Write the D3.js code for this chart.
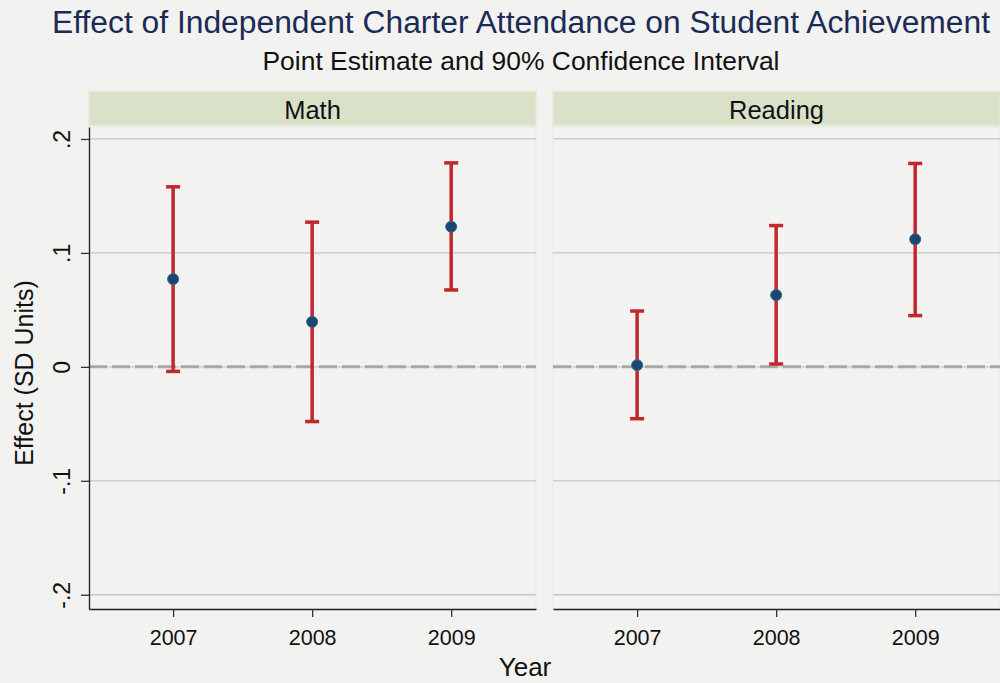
<!DOCTYPE html>
<html>
<head>
<meta charset="utf-8">
<script src="https://cdn.jsdelivr.net/npm/d3@7"></script>
<style>
  body { margin: 0; background: #f2f2f0; }
  svg { display: block; font-family: "Liberation Sans", Arial, sans-serif; }
</style>
</head>
<body>
<div id="visHolder"></div>
<script>
// data
const panels = ["Math", "Reading"];
const years = [2007, 2008, 2009];
const mathEst = [0.077, 0.0395, 0.123];
const mathLo = [-0.004, -0.048, 0.0675];
const mathHi = [0.158, 0.127, 0.179];
const readEst = [0.0015, 0.063, 0.112];
const readLo = [-0.0455, 0.0025, 0.045];
const readHi = [0.049, 0.124, 0.1785];
const yTicks = [-0.2, -0.1, 0, 0.1, 0.2];
const yTickLabels = ["-.2", "-.1", "0", ".1", ".2"];

let width = 1000,
    height = 683,
    panelLeft = [89, 553],
    panelWidth = 447,
    plotTop = 127,
    plotBottom = 609;

let svg = d3.select("#visHolder")
    .append("svg")
    .attr("width", width)
    .attr("height", height);

svg.append("rect")
    .attr("width", width)
    .attr("height", height)
    .attr("fill", "#f2f2f0");

let yScale = d3.scaleLinear()
    .domain([-0.2125, 0.2105])
    .range([plotBottom, plotTop]);

let xScale = d3.scaleLinear()
    .domain([2006.395, 2009.61])
    .range([0, panelWidth]);

const series = [
    {est: mathEst, lo: mathLo, hi: mathHi},
    {est: readEst, lo: readLo, hi: readHi}
];

// titles
svg.append("text")
    .attr("x", 521).attr("y", 33)
    .attr("text-anchor", "middle")
    .attr("font-size", 31)
    .attr("fill", "#1c2b55")
    .attr("textLength", 938)
    .attr("lengthAdjust", "spacingAndGlyphs")
    .text("Effect of Independent Charter Attendance on Student Achievement");

svg.append("text")
    .attr("x", 521).attr("y", 70)
    .attr("text-anchor", "middle")
    .attr("font-size", 25)
    .attr("fill", "#111")
    .attr("textLength", 517)
    .attr("lengthAdjust", "spacingAndGlyphs")
    .text("Point Estimate and 90% Confidence Interval");

panels.forEach((name, p) => {
    let g = svg.append("g")
        .attr("transform", "translate(" + panelLeft[p] + ",0)");
    let s = series[p];

    // strip
    g.append("rect")
        .attr("x", 0).attr("y", 91.5)
        .attr("width", panelWidth).attr("height", 34)
        .attr("fill", "#d9e2c8")
        .attr("stroke", "#e2e9d6")
        .attr("stroke-width", 1.5);
    g.append("text")
        .attr("x", panelWidth / 2).attr("y", 119)
        .attr("text-anchor", "middle")
        .attr("font-size", 25.5)
        .attr("fill", "#111")
        .text(name);

    // faint panel frame
    g.append("rect")
        .attr("x", 0).attr("y", plotTop)
        .attr("width", panelWidth).attr("height", plotBottom - plotTop)
        .attr("fill", "none")
        .attr("stroke", "#e9e9e7");

    // grid
    g.selectAll(".grid")
        .data(yTicks.filter(d => d !== 0))
        .enter().append("line")
        .attr("x1", 0).attr("x2", panelWidth)
        .attr("y1", d => yScale(d)).attr("y2", d => yScale(d))
        .attr("stroke", "#c6c6c6")
        .attr("stroke-width", 1.3);

    g.append("line")
        .attr("x1", 0).attr("x2", panelWidth)
        .attr("y1", yScale(0)).attr("y2", yScale(0))
        .attr("stroke", "#c6c6c6")
        .attr("stroke-width", 1.3);
    g.append("line")
        .attr("x1", 0).attr("x2", panelWidth)
        .attr("y1", yScale(0)).attr("y2", yScale(0))
        .attr("stroke", "#a8a8a6")
        .attr("stroke-width", 3)
        .attr("stroke-dasharray", "18,5");

    // x axis
    let xAxis = d3.axisBottom(xScale)
        .tickValues(years)
        .tickFormat(d3.format("d"))
        .tickSize(8)
        .tickSizeOuter(0)
        .tickPadding(7);
    let xa = g.append("g")
        .attr("transform", "translate(0," + plotBottom + ")")
        .call(xAxis);
    xa.select(".domain").attr("stroke", "#222").attr("stroke-width", 1.3);
    xa.selectAll(".tick line").attr("stroke", "#333").attr("stroke-width", 1.3);
    xa.selectAll(".tick text")
        .attr("font-size", 21.5)
        .attr("font-family", "Liberation Sans, Arial, sans-serif")
        .attr("fill", "#111")
        .attr("dy", 0)
        .attr("y", 36);

    if (p === 0) {
        let yAxis = d3.axisLeft(yScale)
            .tickValues(yTicks)
            .tickFormat((d, i) => yTickLabels[i])
            .tickSize(8)
            .tickSizeOuter(0);
        let ya = g.append("g").call(yAxis);
        ya.select(".domain").attr("stroke", "#222").attr("stroke-width", 1.3);
        ya.selectAll(".tick line").attr("stroke", "#333").attr("stroke-width", 1.3);
        ya.selectAll(".tick text")
            .attr("font-size", 23)
            .attr("font-family", "Liberation Sans, Arial, sans-serif")
            .attr("fill", "#111")
            .attr("text-anchor", "middle")
            .attr("dy", 0)
            .attr("transform", "translate(-19,0) rotate(-90)")
            .attr("x", 0).attr("y", 0);
    }

    // error bars
    let bars = g.selectAll(".ci")
        .data(years)
        .enter().append("g");
    bars.append("line")
        .attr("x1", d => xScale(d)).attr("x2", d => xScale(d))
        .attr("y1", (d, i) => yScale(s.lo[i]))
        .attr("y2", (d, i) => yScale(s.hi[i]))
        .attr("stroke", "#c1272d")
        .attr("stroke-width", 3.5);
    ["lo", "hi"].forEach(k => {
        bars.append("line")
            .attr("x1", d => xScale(d) - 7).attr("x2", d => xScale(d) + 7)
            .attr("y1", (d, i) => yScale(s[k][i]))
            .attr("y2", (d, i) => yScale(s[k][i]))
            .attr("stroke", "#c1272d")
            .attr("stroke-width", 3.5);
    });
    bars.append("circle")
        .attr("cx", d => xScale(d))
        .attr("cy", (d, i) => yScale(s.est[i]))
        .attr("r", 5.5)
        .attr("fill", "#1a476f")
        .attr("stroke", "#3f6488")
        .attr("stroke-width", 1);
});

// axis titles
svg.append("text")
    .attr("transform", "translate(33,373) rotate(-90)")
    .attr("text-anchor", "middle")
    .attr("font-size", 25)
    .attr("fill", "#111")
    .text("Effect (SD Units)");

svg.append("text")
    .attr("x", 525).attr("y", 676)
    .attr("text-anchor", "middle")
    .attr("font-size", 26)
    .attr("fill", "#111")
    .text("Year");
</script>
</body>
</html>
